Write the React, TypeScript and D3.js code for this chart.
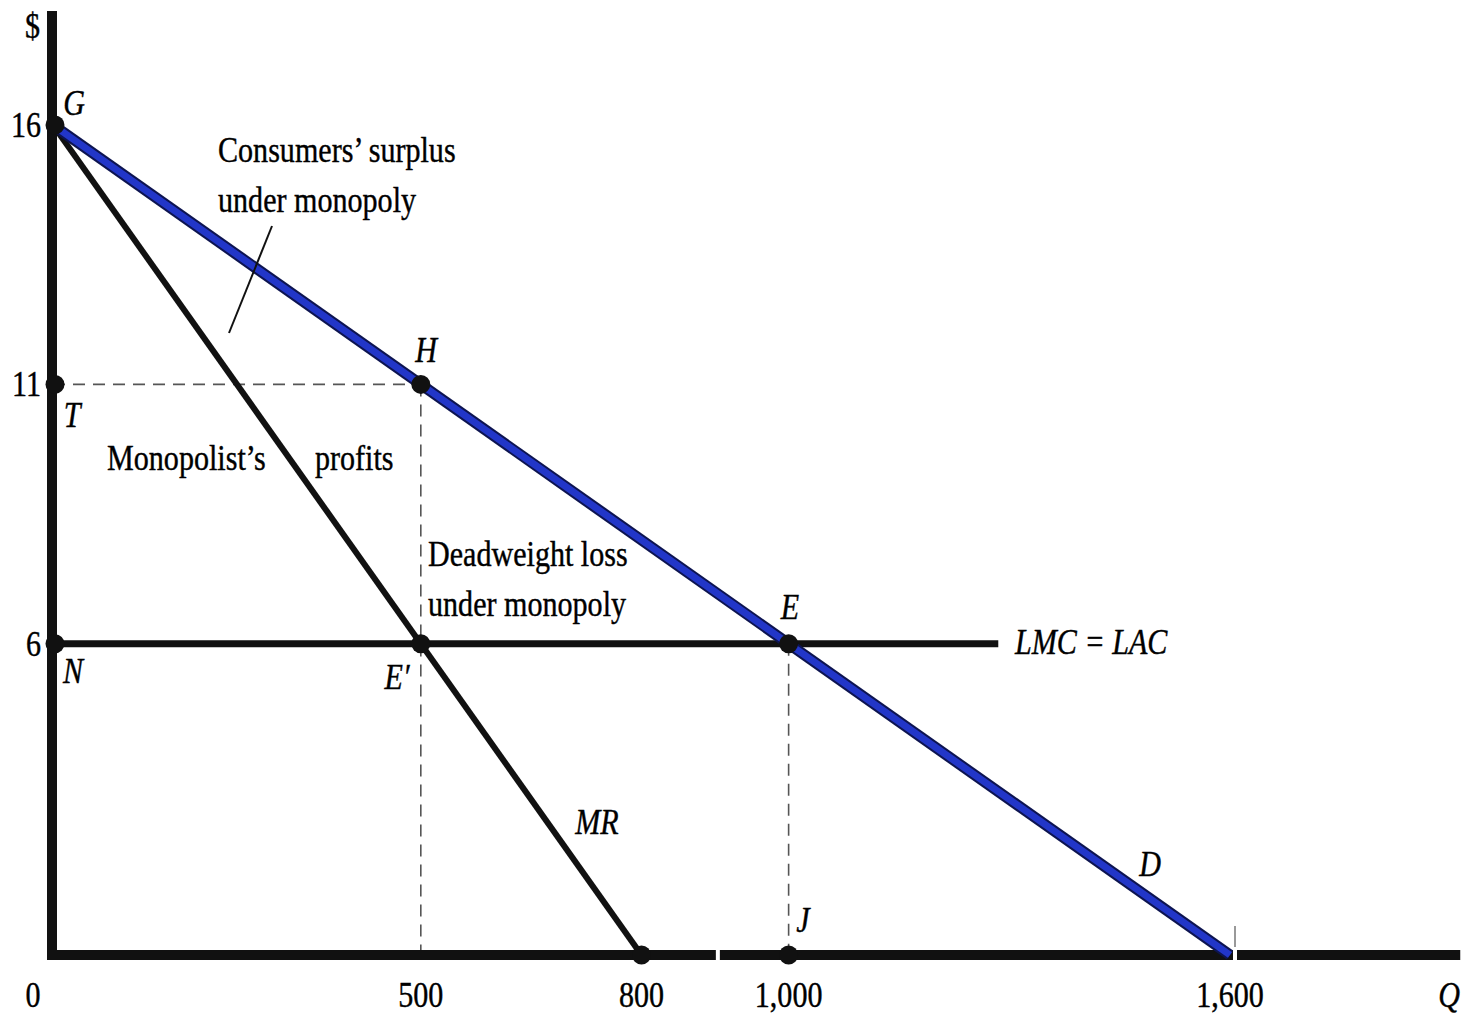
import * as d3 from "d3";
import { useEffect } from "react";

// quantities / prices
const demand = [
  { q: 0, p: 16 },
  { q: 1600, p: 0 },
];
const marginalRevenue = [
  { q: 0, p: 16 },
  { q: 800, p: 0 },
];
const lmc = [
  { q: 0, p: 6 },
  { q: 1285, p: 6 },
];
const priceTicks = [
  { p: 16, label: "16" },
  { p: 11, label: "11" },
  { p: 6, label: "6" },
];
const qtyTicks = [
  { q: 500, label: "500" },
  { q: 800, label: "800" },
  { q: 1000, label: "1,000" },
  { q: 1600, label: "1,600" },
];
const points = [
  { q: 0, p: 16 },
  { q: 0, p: 11 },
  { q: 500, p: 11 },
  { q: 0, p: 6 },
  { q: 500, p: 6 },
  { q: 1000, p: 6 },
  { q: 800, p: 0 },
  { q: 1000, p: 0 },
];
const axisBreaks = [897, 1600];

const W = 1468;
const H = 1017;
const FONT = "'Liberation Serif', 'Times New Roman', serif";

function Label({
  x,
  y,
  text,
  italic = false,
  anchor = "start",
  size = 35,
}: {
  x: number;
  y: number;
  text: string;
  italic?: boolean;
  anchor?: string;
  size?: number;
}) {
  return (
    <text
      transform={`translate(${x},${y}) scale(0.86,1)`}
      fontFamily={FONT}
      fontSize={size}
      fontStyle={italic ? "italic" : "normal"}
      textAnchor={anchor}
      fill="#000"
      stroke="#000"
      strokeWidth={0.4}
    >
      {text}
    </text>
  );
}

export default function App() {
  useEffect(() => {
    document.body.style.margin = "0";
  }, []);

  const x = d3.scaleLinear().domain([0, 1600]).range([53, 1230]);
  const y = d3.scaleLinear().domain([0, 16]).range([955, 125]);

  const line = d3
    .line<{ q: number; p: number }>()
    .x((d) => x(d.q))
    .y((d) => y(d.p));

  const axisTop = y(18.2);
  const axisRight = x(1913);

  return (
    <svg
      width={W}
      height={H}
      style={{ position: "absolute", left: 0, top: 0, background: "#fff" }}
    >
      {/* dashed guides */}
      <g stroke="#555" strokeWidth={1.6} strokeDasharray="12,8" fill="none">
        <line x1={x(0)} y1={y(11)} x2={x(500)} y2={y(11)} />
        <line x1={x(500)} y1={y(11)} x2={x(500)} y2={y(0)} />
        <line x1={x(1000)} y1={y(6)} x2={x(1000)} y2={y(0)} />
      </g>

      {/* axes */}
      <line x1={52} y1={axisTop} x2={52} y2={960} stroke="#111" strokeWidth={10} />
      <line x1={47} y1={955} x2={axisRight} y2={955} stroke="#111" strokeWidth={10} />
      {axisBreaks.map((q) => (
        <rect key={q} x={x(q) + 3} y={948} width={4} height={14} fill="#fff" />
      ))}
      <line x1={x(1600) + 5} y1={926} x2={x(1600) + 5} y2={947} stroke="#555" strokeWidth={1.2} />

      {/* LMC = LAC */}
      <path d={line(lmc) ?? ""} stroke="#111" strokeWidth={7} fill="none" />

      {/* MR */}
      <path d={line(marginalRevenue) ?? ""} stroke="#111" strokeWidth={6} fill="none" />

      {/* demand */}
      <path d={line(demand) ?? ""} stroke="#0d1450" strokeWidth={11} fill="none" />
      <path d={line(demand) ?? ""} stroke="#2236c8" strokeWidth={7} fill="none" />

      {/* points */}
      {points.map((d, i) => (
        <circle key={i} cx={x(d.q) + (d.q === 0 ? 2 : 0)} cy={y(d.p)} r={9.5} fill="#111" />
      ))}

      {/* leader line for consumers' surplus */}
      <line x1={272} y1={226} x2={229} y2={333} stroke="#111" strokeWidth={2} />

      {/* axis labels */}
      <Label x={40} y={38} text="$" anchor="end" />
      {priceTicks.map((t) => (
        <Label key={t.label} x={41} y={y(t.p) + 12} text={t.label} anchor="end" />
      ))}
      <Label x={33} y={1007} text="0" anchor="middle" />
      {qtyTicks.map((t) => (
        <Label key={t.label} x={x(t.q)} y={1007} text={t.label} anchor="middle" />
      ))}
      <Label x={1449} y={1007} text="Q" italic anchor="middle" />

      {/* point labels */}
      <Label x={74} y={115} text="G" italic anchor="middle" />
      <Label x={426} y={362} text="H" italic anchor="middle" />
      <Label x={72} y={427} text="T" italic anchor="middle" />
      <Label x={790} y={619} text="E" italic anchor="middle" />
      <Label x={73} y={683} text="N" italic anchor="middle" />
      <Label x={397} y={689} text="E′" italic anchor="middle" />
      <Label x={803} y={932} text="J" italic anchor="middle" />
      <Label x={597} y={834} text="MR" italic anchor="middle" />
      <Label x={1150} y={876} text="D" italic anchor="middle" />
      <Label x={1015} y={654} text="LMC = LAC" italic />

      {/* region labels */}
      <Label x={218} y={162} text="Consumers’ surplus" />
      <Label x={218} y={212} text="under monopoly" />
      <Label x={107} y={470} text="Monopolist’s" />
      <Label x={315} y={470} text="profits" />
      <Label x={428} y={566} text="Deadweight loss" />
      <Label x={428} y={616} text="under monopoly" />
    </svg>
  );
}
